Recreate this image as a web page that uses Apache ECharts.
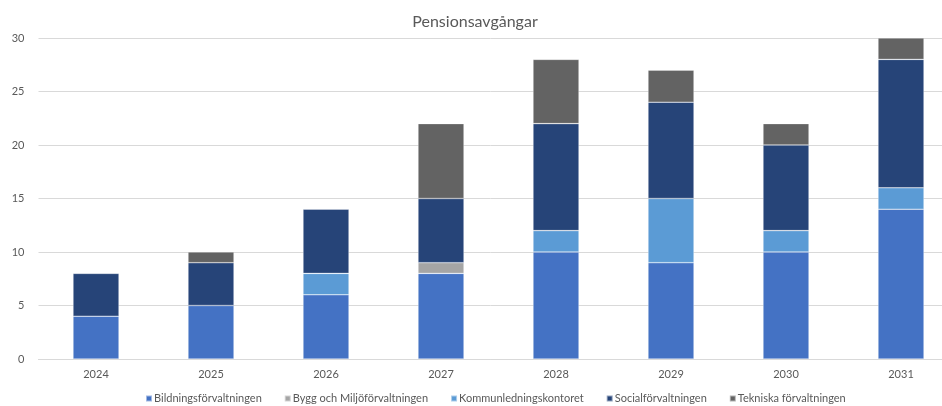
<!DOCTYPE html>
<html>
<head>
<meta charset="utf-8">
<script src="https://cdn.jsdelivr.net/npm/echarts@6/dist/echarts.min.js"></script>
<style>
  html, body { margin: 0; padding: 0; background: #fff; }
  #chart { width: 942px; height: 406px; }
</style>
</head>
<body>
<div id="chart"></div>
<script>
"use strict";

var years = ['2024', '2025', '2026', '2027', '2028', '2029', '2030', '2031'];
var bildning = [4, 5, 6, 8, 10, 9, 10, 14];
var bygg = [0, 0, 0, 1, 0, 0, 0, 0];
var kommun = [0, 0, 2, 0, 2, 6, 2, 2];
var social = [4, 4, 6, 6, 10, 9, 8, 12];
var tekniska = [0, 1, 0, 7, 6, 3, 2, 2];

var names = ['Bildningsförvaltningen', 'Bygg och Miljöförvaltningen', 'Kommunledningskontoret', 'Socialförvaltningen', 'Tekniska förvaltningen'];
var colors = ['#4472C4', '#A5A5A5', '#5B9BD5', '#264478', '#636363'];
var values = [bildning, bygg, kommun, social, tekniska];

var FONT = 'Lato';

function makeSeries() {
	var list = [];
	for (var i = 0; i < names.length; i++) {
		list.push({
			name: names[i],
			type: 'bar',
			stack: 'total',
			barWidth: 46,
			itemStyle: { color: colors[i], borderColor: 'rgba(255,255,255,0.5)', borderWidth: 0.6 },
			data: values[i].map(function(v) { return v === 0 ? null : v; })
		});
	}
	return list;
}

var chart = echarts.init(document.getElementById('chart'));
chart.setOption({
	animation: false,
	title: {
		text: 'Pensionsavgångar',
		left: 470,
		top: 9,
		textAlign: 'center',
		textStyle: { fontFamily: FONT, fontSize: 16, fontWeight: 'normal', color: '#595959' }
	},
	legend: {
		data: names,
		left: 145,
		top: 393,
		padding: 0,
		itemWidth: 6,
		itemHeight: 6,
		itemGap: 22,
		icon: 'rect',
		textStyle: { fontFamily: FONT, fontSize: 11, color: '#595959', padding: [0, 0, 0, -3] }
	},
	grid: {
		left: 38.5,
		width: 920,
		top: 38,
		bottom: 47,
		outerBoundsMode: 'none'
	},
	xAxis: {
		type: 'category',
		data: years,
		axisLine: { lineStyle: { color: '#D9D9D9' } },
		axisTick: { show: false },
		axisLabel: { fontFamily: FONT, fontSize: 11, color: '#595959', margin: 10 }
	},
	yAxis: {
		type: 'value',
		min: 0,
		max: 30,
		interval: 5,
		axisLine: { show: false },
		axisTick: { show: false },
		splitLine: { lineStyle: { color: '#D9D9D9' } },
		axisLabel: { fontFamily: FONT, fontSize: 11, color: '#595959', margin: 14 }
	},
	series: makeSeries()
});
</script>
</body>
</html>
